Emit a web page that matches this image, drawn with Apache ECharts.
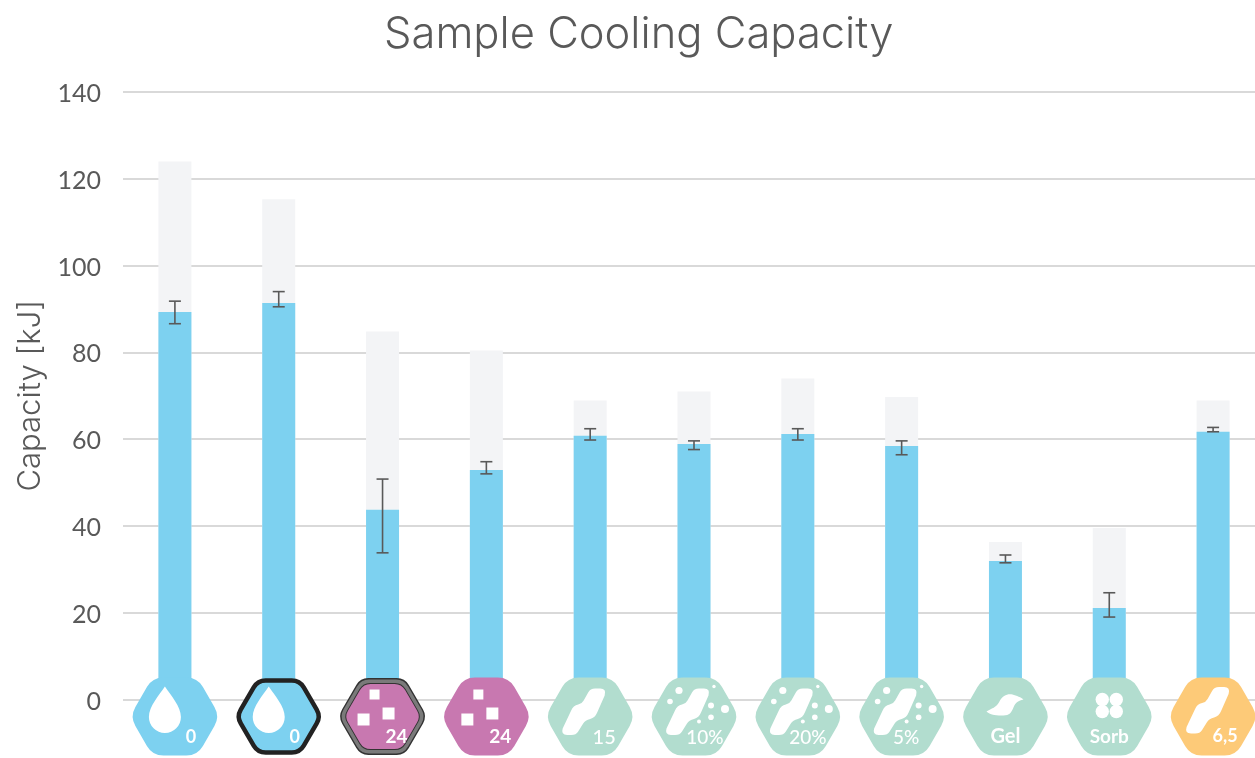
<!DOCTYPE html>
<html><head><meta charset="utf-8">
<style>html,body{margin:0;padding:0;background:#fff;overflow:hidden;width:1255px;height:758px}#c{width:1265px;height:758px}</style>
<script src="https://cdn.jsdelivr.net/npm/echarts@6/dist/echarts.min.js"></script>
</head><body><div id="c"></div>
<script>
const labels = ['0','0','24','24','15','10%','20%','5%','Gel','Sorb','6,5'];
const iconKinds = ['drop','dropOutlined','cubesOutlined','cubes','blob','blobDots','blobDots','blobDots','gel','sorb','blobOrange'];
const totalCapacity = [124,115.3,84.8,80.4,68.9,71,74,69.7,36.3,39.5,68.9];
const sampleCapacity = [89.3,91.4,43.7,52.9,60.8,58.9,61.2,58.4,31.9,21.1,61.7];
const errorLow = [86.6,90.5,33.8,52,59.8,57.6,59.8,56.4,31.5,19,61.7];
const errorHigh = [91.8,94,50.8,54.8,62.4,59.6,62.4,59.6,33.3,24.6,62.7];
const yTicks = {min:0,max:140,interval:20};

const BLUE='#7dd1f0',PINK='#c878b0',GREEN='#b2ddcf',ORANGE='#fdca78',TXT='#595959';
const FONT='Lato, "Open Sans", sans-serif';
const WIDE='Inter, "Open Sans", sans-serif';

function hexPath(w,h,r){
  const a=w/2,b=h/2,t=a/2;
  const v=[[-a,0],[-t,-b],[t,-b],[a,0],[t,b],[-t,b]];
  let d='';
  for(let i=0;i<6;i++){
    const p=v[(i+5)%6],c=v[i],n=v[(i+1)%6];
    const l1=Math.hypot(p[0]-c[0],p[1]-c[1]),l2=Math.hypot(n[0]-c[0],n[1]-c[1]);
    const s=[c[0]+(p[0]-c[0])*r/l1,c[1]+(p[1]-c[1])*r/l1];
    const e=[c[0]+(n[0]-c[0])*r/l2,c[1]+(n[1]-c[1])*r/l2];
    d+=(i?'L':'M')+s[0]+' '+s[1]+'Q'+c[0]+' '+c[1]+' '+e[0]+' '+e[1];
  }
  return d+'Z';
}
const DROP='M-10 -30C-4 -21 6 -10 6 0.5A16 16 0 0 1 -26 0.5C-26 -10 -16 -21 -10 -30Z';
const BLOB='M5 -28L10 -28Q16.5 -28 14.5 -21L7 -4Q5 1 0 2.5Q-5 3.5 -7 7L-12 15Q-14 18.5 -19 18.5L-23 18.5Q-29.5 18.5 -27.5 12L-19 -6Q-17 -11 -12 -12Q-8 -13 -6.5 -16L-2 -24Q0 -28 5 -28Z';
const GEL='M-19 -5C-14 -8 -9 -9 -6 -15C-3 -21 2 -23 7 -22C11 -21 16 -19 18 -17C13 -16 10 -14 8 -9C6 -4 4 -1 -2 -1C-8 -1 -15 -1 -19 -5Z';
const DOTS=[[-15,-26,3.6],[-24,-15,2.8],[20,-30,1.7],[17,-11,3],[31,-7.5,4],[17,0.7,2.8],[5,5,2]];
const SORB=[[-7,-17,6.7],[7,-17,6.7],[-7,-5,6.7],[7,-5,6.7]];
const CUBES=[[-8,-22,10],[6,-3,12],[-19,3,12]];
const LABEL_POS={'0':[16,21,18,700],'24':[14,20,19,700],'15':[14,21,20,500],'10%':[11,21,19,500],'20%':[10,21,19,500],'5%':[4.5,21,19,500],
  'Gel':[0,20,20,700],'Sorb':[0,20,19,700],'6,5':[12,20,18,700]};

function path(d,fill,extra){return Object.assign({type:'path',shape:{pathData:d},style:{fill:fill}},extra||{});}
function circles(list){return list.map(c=>({type:'circle',shape:{cx:c[0],cy:c[1],r:c[2]},style:{fill:'#fff'}}));}
function squares(){return CUBES.map(s=>({type:'rect',shape:{x:s[0]-s[2]/2,y:s[1]-s[2]/2,width:s[2],height:s[2]},style:{fill:'#fff'}}));}

function iconChildren(kind,label){
  const ch=[];
  const H=hexPath(90,78,11);
  if(kind==='drop'){ch.push(path(H,BLUE));ch.push(path(DROP,'#fff'));}
  else if(kind==='dropOutlined'){ch.push(path(hexPath(84,72,8),BLUE,{style:{fill:BLUE,stroke:'#222222',lineWidth:4.5}}));ch.push(path(DROP,'#fff'));}
  else if(kind==='cubesOutlined'){
    ch.push(path(hexPath(89,77,8),'#333333'));
    ch.push(path(hexPath(86,74,8),'#7a7a7a'));
    ch.push(path(hexPath(78,67,7),'#333333'));
    ch.push(path(hexPath(76,65,7),PINK));
    ch.push(...squares());
  }
  else if(kind==='cubes'){ch.push(path(H,PINK));ch.push(...squares());}
  else if(kind==='blob'){ch.push(path(H,GREEN));ch.push(path(BLOB,'#fff'));}
  else if(kind==='blobDots'){ch.push(path(H,GREEN));ch.push(path(BLOB,'#fff'));ch.push(...circles(DOTS));}
  else if(kind==='gel'){ch.push(path(H,GREEN));ch.push(path(GEL,'#fff'));}
  else if(kind==='sorb'){ch.push(path(H,GREEN));ch.push(...circles(SORB));}
  else if(kind==='blobOrange'){ch.push(path(H,ORANGE));ch.push(path(BLOB,'#fff',{x:1,y:-1.5}));}
  const lp=LABEL_POS[label];
  ch.push({type:'text',style:{text:label,x:lp[0],y:lp[1],fill:'#fff',align:'center',verticalAlign:'middle',
    font:lp[3]+' '+lp[2]+'px '+FONT}});
  return ch;
}

const chart=echarts.init(document.getElementById('c'),null,{renderer:'canvas'});
chart.setOption({
  animation:false,
  backgroundColor:'#ffffff',
  title:{text:'Sample Cooling Capacity',left:379,top:8,
    textStyle:{color:TXT,fontFamily:WIDE,fontSize:43.5,fontWeight:300}},
  grid:{left:123,top:92,width:1142,height:607.5,containLabel:false},
  xAxis:{type:'category',data:labels.map((l,i)=>i),axisLine:{show:false},axisTick:{show:false},axisLabel:{show:false},splitLine:{show:false}},
  yAxis:{type:'value',min:yTicks.min,max:yTicks.max,interval:yTicks.interval,
    name:'Capacity [kJ]',nameLocation:'middle',nameGap:74,nameRotate:90,
    nameTextStyle:{color:TXT,fontFamily:WIDE,fontSize:31,fontWeight:300},
    axisLine:{show:false},axisTick:{show:false},
    axisLabel:{margin:22,formatter:'{a|{value}}',
      rich:{a:{color:TXT,fontFamily:FONT,fontSize:25,padding:[4,0,0,0]}}},
    splitLine:{show:true,lineStyle:{color:'#d9d9d9',width:2}}},
  series:[
    {type:'bar',data:totalCapacity,barWidth:33,barGap:'-100%',itemStyle:{color:'#f3f4f6'},z:2},
    {type:'bar',data:sampleCapacity,barWidth:33,barGap:'-100%',itemStyle:{color:BLUE},z:3},
    {type:'custom',z:4,data:errorLow.map((l,i)=>[i,l,errorHigh[i]]),encode:{x:0,y:[1,2]},
      renderItem(p,api){
        const lo=api.coord([api.value(0),api.value(1)]),hi=api.coord([api.value(0),api.value(2)]);
        const s={stroke:'#595959',lineWidth:1.6,fill:null};const c=6;
        return {type:'group',children:[
          {type:'line',shape:{x1:lo[0],y1:lo[1],x2:hi[0],y2:hi[1]},style:s},
          {type:'line',shape:{x1:lo[0]-c,y1:lo[1],x2:lo[0]+c,y2:lo[1]},style:s},
          {type:'line',shape:{x1:hi[0]-c,y1:hi[1],x2:hi[0]+c,y2:hi[1]},style:s}
        ]};
      }},
    {type:'custom',z:6,clip:false,data:labels.map((l,i)=>[i,0]),encode:{x:0,y:1},
      renderItem(p,api){
        const i=api.value(0),c=api.coord([i,0]);
        return {type:'group',x:c[0],y:c[1]+17,children:iconChildren(iconKinds[i],labels[i])};
      }}
  ]
});
</script></body></html>
